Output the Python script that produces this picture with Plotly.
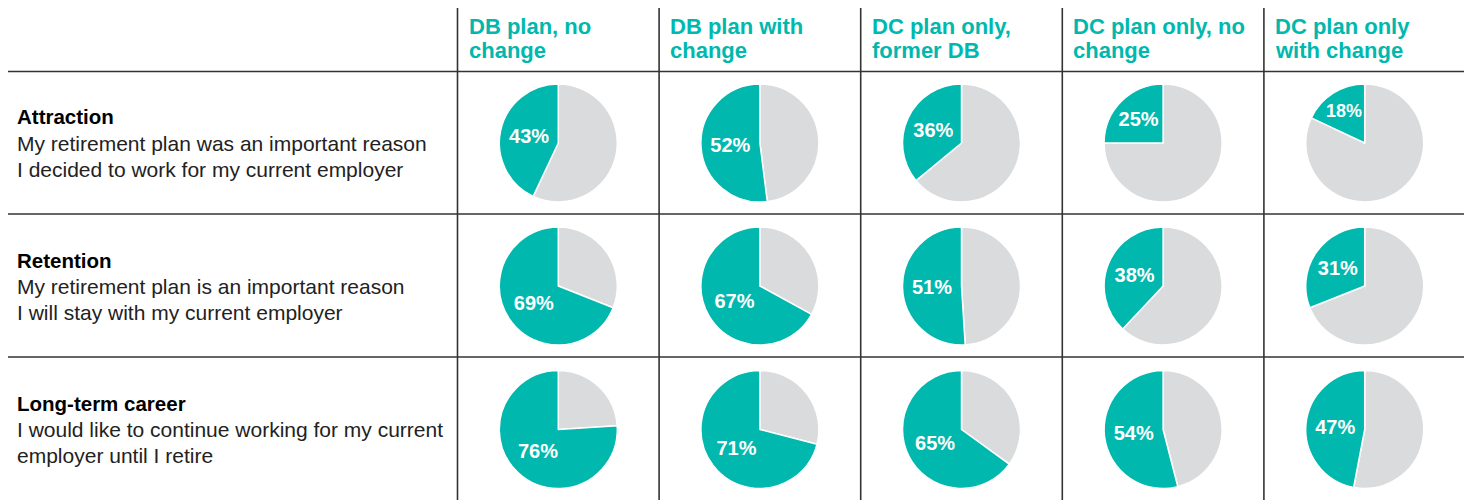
import plotly.graph_objects as go

# 数据：列标题、行标题、说明文字、各饼图的百分比
columns = [["DB plan, no", "change"], ["DB plan with", "change"], ["DC plan only,", "former DB"],
           ["DC plan only, no", "change"], ["DC plan only", "with change"]]
row_titles = ["Attraction", "Retention", "Long-term career"]
row_desc = [
    ["My retirement plan was an important reason", "I decided to work for my current employer"],
    ["My retirement plan is an important reason", "I will stay with my current employer"],
    ["I would like to continue working for my current", "employer until I retire"],
]
values = [
    [43, 52, 36, 25, 18],
    [69, 67, 51, 38, 31],
    [76, 71, 65, 54, 47],
]

W, H = 1472, 500
TEAL = "#00b8ae"
GREY = "#dadbdc"
LINE = "#333333"
FONT = "Liberation Sans"

# 版面位置（像素，页面自带 8px 边距，已扣除）
off = 8
col_left = 457.5 - off
col_w = 201.6
row_mid = [143 - off, 286 - off, 429.5 - off]
hlines = [71.5 - off, 214 - off, 357 - off]
r = 59

fig = go.Figure()

for i, row in enumerate(values):
    for j, v in enumerate(row):
        cx = col_left + col_w * (j + 0.5)
        cy = row_mid[i]
        # 灰色在前、顺时针：青色扇区落在 12 点钟左侧
        fig.add_trace(go.Pie(
            values=[100 - v, v],
            text=["", f"{v}%"],
            textinfo="text",
            textposition=["none", "inside"],
            insidetextorientation="horizontal",
            textfont=dict(color="white", size=20, family=FONT, weight="bold"),
            marker=dict(colors=[GREY, TEAL], line=dict(color="white", width=1.5)),
            sort=False,
            direction="clockwise",
            rotation=0,
            hoverinfo="skip",
            showlegend=False,
            domain=dict(x=[(cx - r) / W, (cx + r) / W], y=[1 - (cy + r) / H, 1 - (cy - r) / H]),
        ))

shapes = []
for k in range(5):
    x = col_left + col_w * k
    shapes.append(dict(type="line", xref="paper", yref="paper", x0=x / W, x1=x / W,
                       y0=0, y1=1, line=dict(color=LINE, width=1.6)))
for y in hlines:
    shapes.append(dict(type="line", xref="paper", yref="paper", x0=0, x1=1,
                       y0=1 - y / H, y1=1 - y / H, line=dict(color=LINE, width=1.6)))

annotations = []
for j, c in enumerate(columns):
    x = col_left + col_w * j + 9
    for k, line in enumerate(c):
        annotations.append(dict(text=line, x=x / W, y=1 - (26 - off + 25 * k) / H, xref="paper", yref="paper",
                                xanchor="left", yanchor="middle", showarrow=False,
                                font=dict(family=FONT, size=22, color=TEAL, weight="bold")))
for i, t in enumerate(row_titles):
    cy = row_mid[i]
    annotations.append(dict(text=t, x=(15 - off) / W, y=1 - (cy - 26) / H, xref="paper", yref="paper",
                            xanchor="left", yanchor="middle", showarrow=False,
                            font=dict(family=FONT, size=20.5, color="black", weight="bold")))
    for k, d in enumerate(row_desc[i]):
        annotations.append(dict(text=d, x=(15 - off) / W, y=1 - (cy + 26 * k) / H, xref="paper", yref="paper",
                                xanchor="left", yanchor="middle", showarrow=False,
                                font=dict(family=FONT, size=21, color="#222222")))

fig.update_layout(
    width=W, height=H,
    margin=dict(l=0, r=0, t=0, b=0),
    paper_bgcolor="white", plot_bgcolor="white",
    shapes=shapes, annotations=annotations,
)

fig.write_html("out.html")
